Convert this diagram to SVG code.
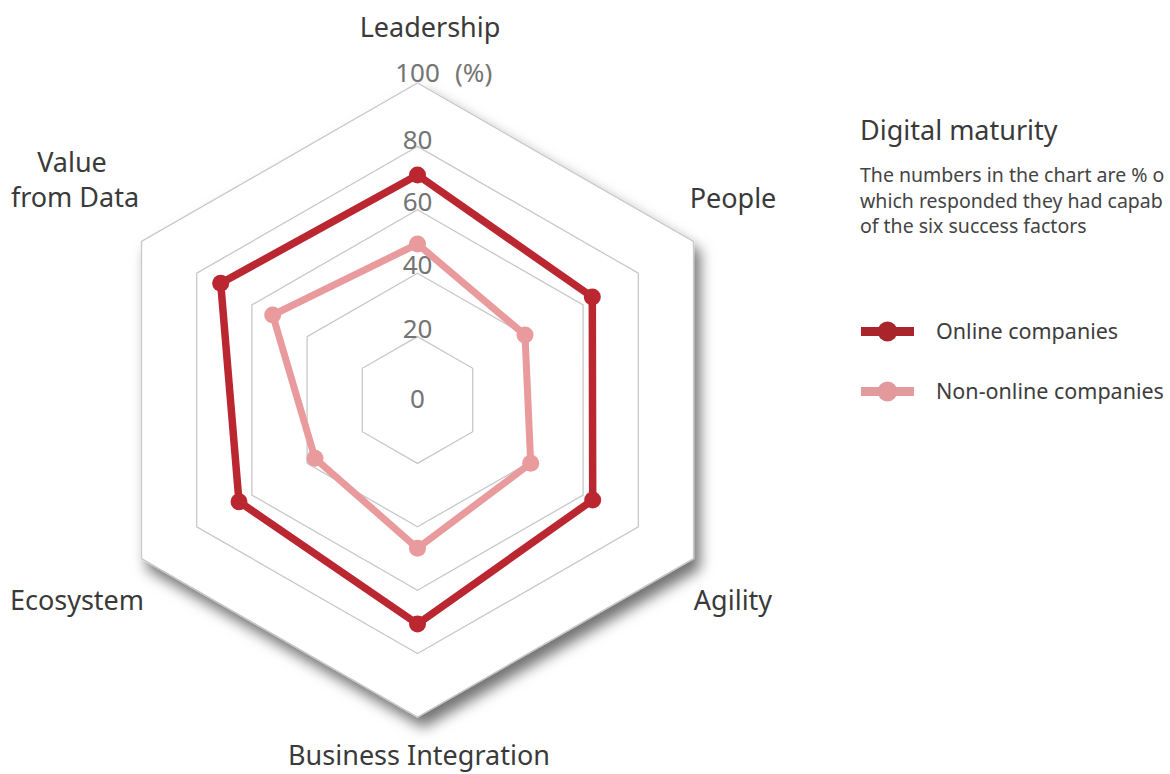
<svg xmlns="http://www.w3.org/2000/svg" width="1170" height="774" viewBox="0 0 1170 774">
<defs>
<filter id="shadow" x="-20%" y="-20%" width="140%" height="140%">
<feDropShadow dx="6" dy="10" stdDeviation="7" flood-color="#000" flood-opacity="0.55"/>
</filter>
<style>
.grid{fill:none;stroke:#c8c8c8;stroke-width:1.3}
.outer{fill:#fff;stroke:#c8c8c8;stroke-width:1.3}
.num{font-family:"Noto Sans","Liberation Sans",sans-serif;font-size:26px;fill:#747474;text-anchor:middle}
.lab{font-family:"Noto Sans","Liberation Sans",sans-serif;font-size:27px;fill:#3a3a3a;text-anchor:middle}
.on{fill:none;stroke:#BA2730;stroke-width:7.5;stroke-linejoin:round}
.off{fill:none;stroke:#E99A9C;stroke-width:7;stroke-linejoin:round}
.ond{fill:#BA2730}
.offd{fill:#E99A9C}
.title{font-family:"Noto Sans","Liberation Sans",sans-serif;font-size:27px;fill:#3a3a3a}
.desc{font-family:"Noto Sans","Liberation Sans",sans-serif;font-size:19.5px;fill:#444}
.leg{font-family:"Noto Sans","Liberation Sans",sans-serif;font-size:21.5px;fill:#3d3d3d}
</style>
</defs>
<rect width="1170" height="774" fill="#fff"/>
<g id="grid">
<polygon class="outer" filter="url(#shadow)" points="417.5,83 693.5,241.5 693.5,558.5 417.5,717 141.5,558.5 141.5,241.5"/>
<polygon class="grid" points="417.5,146.4 638.3,273.2 638.3,526.8 417.5,653.6 196.7,526.8 196.7,273.2"/>
<polygon class="grid" points="417.5,209.8 583.1,304.9 583.1,495.1 417.5,590.2 251.9,495.1 251.9,304.9"/>
<polygon class="grid" points="417.5,273.2 527.9,336.6 527.9,463.4 417.5,526.8 307.1,463.4 307.1,336.6"/>
<polygon class="grid" points="417.5,336.6 472.7,368.3 472.7,431.7 417.5,463.4 362.3,431.7 362.3,368.3"/>
</g>
<g id="scale">
<text class="num" x="417.5" y="82">100</text>
<text class="num" x="455" y="82" style="text-anchor:start">(%)</text>
<text class="num" x="417.5" y="149">80</text>
<text class="num" x="417.5" y="211">60</text>
<text class="num" x="417.5" y="274">40</text>
<text class="num" x="417.5" y="338">20</text>
<text class="num" x="417.5" y="408">0</text>
</g>
<g id="series-nononline">
<polygon class="off" points="417.5,244 525,335 530.7,463.3 417.5,548.3 315,458.3 272.7,315"/>
<circle class="offd" cx="417.5" cy="244" r="8.5"/>
<circle class="offd" cx="525" cy="335" r="8.5"/>
<circle class="offd" cx="530.7" cy="463.3" r="8.5"/>
<circle class="offd" cx="417.5" cy="548.3" r="8.5"/>
<circle class="offd" cx="315" cy="458.3" r="8.5"/>
<circle class="offd" cx="272.7" cy="315" r="8.5"/>
</g>
<g id="series-online">
<polygon class="on" points="417.5,175 592.3,297 592.7,500 417.5,624 239,501.7 220.7,283.3"/>
<circle class="ond" cx="417.5" cy="175" r="8.5"/>
<circle class="ond" cx="592.3" cy="297" r="8.5"/>
<circle class="ond" cx="592.7" cy="500" r="8.5"/>
<circle class="ond" cx="417.5" cy="624" r="8.5"/>
<circle class="ond" cx="239" cy="501.7" r="8.5"/>
<circle class="ond" cx="220.7" cy="283.3" r="8.5"/>
</g>
<g id="axis-labels">
<text class="lab" x="430" y="37">Leadership</text>
<text class="lab" x="733" y="208">People</text>
<text class="lab" x="733" y="610">Agility</text>
<text class="lab" x="419" y="765">Business Integration</text>
<text class="lab" x="77" y="610">Ecosystem</text>
<text class="lab" x="72" y="172">Value</text>
<text class="lab" x="75" y="207">from Data</text>
</g>
<g id="legend">
<text class="title" x="860" y="140">Digital maturity</text>
<text class="desc" x="860" y="182">The numbers in the chart are % o</text>
<text class="desc" x="860" y="207.5">which responded they had capab</text>
<text class="desc" x="860" y="233">of the six success factors</text>
<g id="legend-online">
<line x1="861" y1="331.5" x2="914" y2="331.5" stroke="#A9252C" stroke-width="9"/>
<circle cx="887.5" cy="331.5" r="10" fill="#A9252C"/>
<text class="leg" x="936" y="339">Online companies</text>
</g>
<g id="legend-nononline">
<line x1="861" y1="391.5" x2="914" y2="391.5" stroke="#E39A9C" stroke-width="9"/>
<circle cx="887.5" cy="391.5" r="10" fill="#E39A9C"/>
<text class="leg" x="936" y="399">Non-online companies</text>
</g>
</g>
</svg>
